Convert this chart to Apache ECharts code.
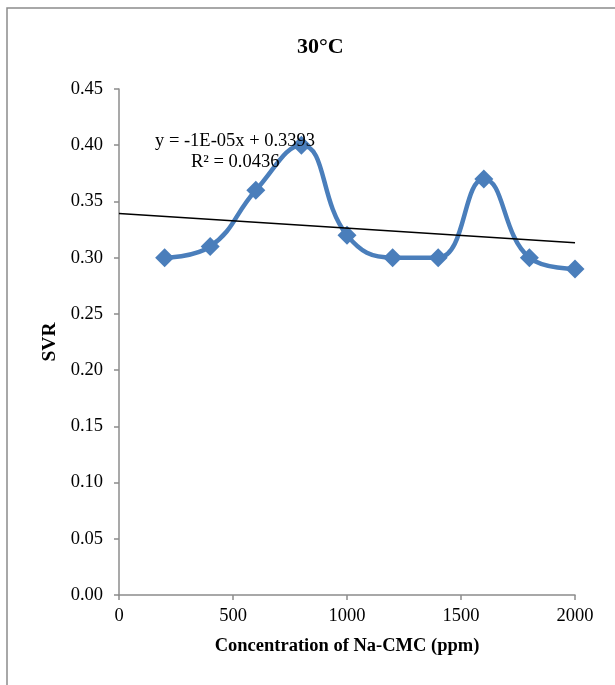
<!DOCTYPE html>
<html>
<head>
<meta charset="utf-8">
<script src="https://cdn.jsdelivr.net/npm/echarts@6/dist/echarts.min.js"></script>
<style>
  html, body { margin: 0; padding: 0; background: #fff; }
  #chart { width: 615px; height: 685px; }
</style>
</head>
<body>
<div id="chart"></div>
<script>
// Na-CMC concentration (ppm) and measured SVR at 30°C
const concentration = [200, 400, 600, 800, 1000, 1200, 1400, 1600, 1800, 2000];
const svr = [0.30, 0.31, 0.36, 0.40, 0.32, 0.30, 0.30, 0.37, 0.30, 0.29];
const xTicks = [0, 500, 1000, 1500, 2000];
const yTicks = [0, 0.05, 0.10, 0.15, 0.20, 0.25, 0.30, 0.35, 0.40, 0.45];
const trendText = ['y = -1E-05x + 0.3393', 'R² = 0.0436'];

// Least-squares linear trendline over the measured points
function linearFit(xs, ys) {
  const n = xs.length;
  const mx = xs.reduce((a, b) => a + b, 0) / n;
  const my = ys.reduce((a, b) => a + b, 0) / n;
  let sxy = 0, sxx = 0;
  for (let i = 0; i < n; i++) {
    sxy += (xs[i] - mx) * (ys[i] - my);
    sxx += (xs[i] - mx) * (xs[i] - mx);
  }
  const slope = sxy / sxx;
  return { slope, intercept: my - slope * mx };
}
const fit = linearFit(concentration, svr);
const xMin = xTicks[0], xMax = xTicks[xTicks.length - 1];
const trendData = [
  [xMin, fit.intercept + fit.slope * xMin],
  [xMax, fit.intercept + fit.slope * xMax]
];

const font = '"Liberation Serif", "Times New Roman", serif';
const axisGray = '#8c8c8c';
const labelSize = 18.5;

const chart = echarts.init(document.getElementById('chart'));
chart.setOption({
  animation: false,
  backgroundColor: '#ffffff',
  title: {
    text: '30°C',
    left: 292,
    top: 31,
    textStyle: { fontFamily: font, fontSize: 22, fontWeight: 'bold', color: '#000' }
  },
  grid: { left: 119, right: 40, top: 89, bottom: 90 },
  xAxis: {
    type: 'value',
    min: xMin,
    max: xMax,
    interval: 500,
    name: 'Concentration of Na-CMC (ppm)',
    nameLocation: 'middle',
    nameGap: 42,
    nameTextStyle: { fontFamily: font, fontSize: labelSize, fontWeight: 'bold', color: '#000' },
    axisLine: { show: true, lineStyle: { color: axisGray, width: 1.5 } },
    axisTick: { show: true, inside: false, length: 5, lineStyle: { color: axisGray, width: 1.5 } },
    axisLabel: {
      fontFamily: font, fontSize: labelSize, color: '#000', margin: 12,
      formatter: v => String(v)
    },
    splitLine: { show: false }
  },
  yAxis: {
    type: 'value',
    min: yTicks[0],
    max: yTicks[yTicks.length - 1],
    interval: 0.05,
    name: 'SVR',
    nameLocation: 'middle',
    nameGap: 58,
    nameRotate: 90,
    nameTextStyle: { fontFamily: font, fontSize: 19.5, fontWeight: 'bold', color: '#000' },
    axisLine: { show: true, lineStyle: { color: axisGray, width: 1.5 } },
    axisTick: { show: true, inside: false, length: 5, lineStyle: { color: axisGray, width: 1.5 } },
    axisLabel: {
      fontFamily: font, fontSize: labelSize, color: '#000', margin: 16,
      formatter: v => v.toFixed(2)
    },
    splitLine: { show: false }
  },
  series: [
    {
      type: 'line',
      data: concentration.map((x, i) => [x, svr[i]]),
      smooth: 0.45,
      symbol: 'diamond',
      symbolSize: 19,
      showAllSymbol: true,
      lineStyle: { color: '#4a7ebb', width: 4.5 },
      itemStyle: { color: '#4a7ebb' },
      z: 2
    },
    {
      type: 'line',
      data: trendData,
      symbol: 'none',
      lineStyle: { color: '#000', width: 1.5 },
      z: 3
    }
  ],
  graphic: [
    {
      type: 'rect',
      shape: { x: 7, y: 8, width: 800, height: 800 },
      style: { fill: 'none', stroke: axisGray, lineWidth: 1.5 },
      silent: true
    },
    {
      type: 'text',
      left: 155,
      top: 132,
      z: 10,
      style: { text: trendText[0], font: labelSize + 'px ' + font, fill: '#000' }
    },
    {
      type: 'text',
      left: 191,
      top: 153,
      z: 10,
      style: { text: trendText[1], font: labelSize + 'px ' + font, fill: '#000' }
    }
  ]
});
</script>
</body>
</html>
